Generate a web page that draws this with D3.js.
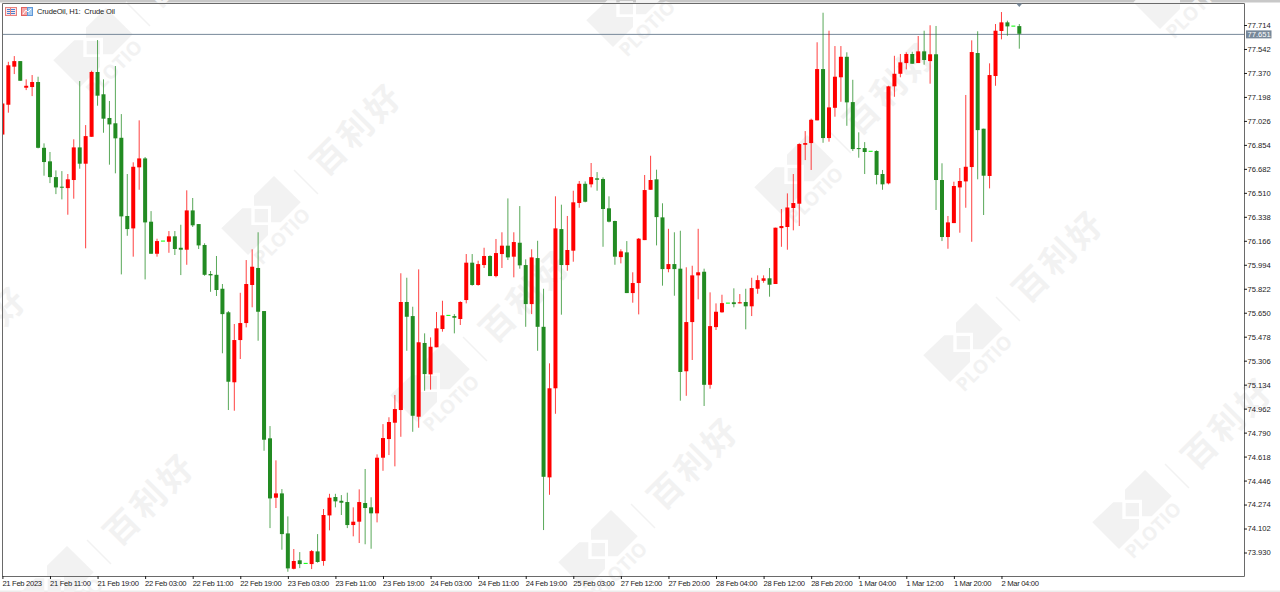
<!DOCTYPE html>
<html>
<head>
<meta charset="utf-8">
<style>
html,body{margin:0;padding:0;background:#fff;overflow:hidden}
svg{display:block}
text{font-family:"Liberation Sans",Arial,sans-serif}
</style>
<script src="https://cdn.jsdelivr.net/npm/d3@7/dist/d3.min.js"></script>
</head>
<body>
<svg id="c" width="1280" height="592"></svg>
<script>
const title = "CrudeOil, H1:  Crude Oil";
const currentPrice = 77.651;
const priceTicks = [77.714,77.542,77.370,77.198,77.026,76.854,76.682,76.510,76.338,76.166,75.994,75.822,75.650,75.478,75.306,75.134,74.962,74.790,74.618,74.446,74.274,74.102,73.930];
const timeLabels = ["21 Feb 2023","21 Feb 11:00","21 Feb 19:00","22 Feb 03:00","22 Feb 11:00","22 Feb 19:00","23 Feb 03:00","23 Feb 11:00","23 Feb 19:00","24 Feb 03:00","24 Feb 11:00","24 Feb 19:00","25 Feb 03:00","27 Feb 12:00","27 Feb 20:00","28 Feb 04:00","28 Feb 12:00","28 Feb 20:00","1 Mar 04:00","1 Mar 12:00","1 Mar 20:00","2 Mar 04:00"];

const opens = [
76.928,77.142,77.415,77.455,77.264,77.269,77.305,76.833,76.736,76.623,
76.554,76.544,76.602,76.836,76.719,76.912,77.377,77.217,77.047,77.009,
76.905,76.344,76.255,76.693,76.757,76.303,76.073,76.164,76.159,76.198,
76.116,76.102,76.384,76.286,76.136,75.928,75.922,75.822,75.653,75.151,
75.454,75.576,75.849,75.971,75.662,74.749,74.323,74.354,74.067,73.813,
73.874,73.852,73.847,73.938,73.869,74.196,74.328,74.301,74.292,74.127,
74.151,74.285,74.254,74.211,74.610,74.744,74.861,74.952,75.727,75.626,
74.904,75.433,75.208,75.402,75.533,75.631,75.626,75.605,75.741,76.009,
75.849,75.992,76.057,75.913,76.071,76.131,76.052,76.152,75.992,75.712,
76.042,75.549,74.469,75.108,76.250,75.992,76.095,76.437,76.575,76.571,
76.614,76.609,76.399,76.308,76.049,76.083,75.791,75.863,76.171,76.532,
76.607,76.334,75.963,75.999,75.966,75.230,75.583,75.918,75.944,75.133,
75.547,75.653,75.719,75.725,75.717,75.727,75.696,75.822,75.879,75.897,
75.856,76.257,76.265,76.401,76.432,76.855,76.867,77.030,77.398,76.903,
77.120,77.339,77.486,77.161,76.831,76.831,76.808,76.810,76.645,76.578,
77.274,77.364,77.441,77.506,77.441,77.525,77.455,77.504,76.602,76.193,
76.293,76.549,76.592,76.695,77.513,76.970,76.631,77.348,77.671,77.733,
77.706,77.706];
const closes = [
77.151,77.425,77.455,77.314,77.278,77.305,76.833,76.731,76.623,76.549,
76.547,76.607,76.836,76.719,76.917,77.377,77.207,77.042,77.001,76.901,
76.341,76.250,76.697,76.757,76.298,76.073,76.164,76.164,76.198,76.107,
76.102,76.384,76.277,76.133,75.922,75.918,75.813,75.640,75.155,75.454,
75.576,75.856,75.980,75.657,74.739,74.318,74.354,74.062,73.816,73.869,
73.847,73.852,73.940,73.862,74.199,74.323,74.297,74.287,74.127,74.151,
74.292,74.249,74.211,74.610,74.751,74.866,74.959,75.727,75.621,74.911,
75.438,75.210,75.406,75.538,75.631,75.631,75.614,75.727,76.009,75.849,
75.999,76.057,75.913,76.078,76.131,76.047,76.157,75.990,75.712,76.047,
75.549,74.473,75.108,76.255,75.992,76.100,76.442,76.575,76.446,76.623,
76.604,76.394,76.303,76.052,76.090,75.791,75.863,76.181,76.530,76.602,
76.336,75.963,75.999,75.963,75.225,75.583,75.918,75.940,75.133,75.554,
75.657,75.719,75.719,75.712,75.725,75.696,75.827,75.884,75.897,75.851,
76.260,76.272,76.405,76.437,76.860,76.867,77.034,77.398,76.903,77.123,
77.343,77.486,77.159,76.824,76.824,76.803,76.808,76.638,76.571,77.274,
77.364,77.446,77.506,77.436,77.525,77.463,77.504,76.602,76.193,76.298,
76.559,76.595,76.697,77.520,76.960,76.633,77.355,77.673,77.733,77.704,
77.706,77.651];
const highs = [
77.154,77.450,77.491,77.455,77.324,77.355,77.343,76.865,76.803,76.671,
76.666,76.645,76.894,77.312,76.996,77.386,77.606,77.324,77.169,77.420,
77.075,76.645,76.729,77.030,76.767,76.379,76.181,76.164,76.236,76.236,
76.281,76.528,76.473,76.286,76.148,75.949,76.057,75.856,75.662,75.569,
75.793,76.028,76.105,76.227,75.662,74.837,74.591,74.385,74.189,73.955,
73.933,73.852,73.948,74.062,74.242,74.351,74.351,74.342,74.359,74.254,
74.383,74.529,74.326,74.634,74.851,74.900,75.060,75.933,75.901,75.693,
75.961,75.502,75.473,75.655,75.736,75.631,75.640,75.732,76.071,76.071,
76.023,76.116,76.062,76.179,76.227,76.470,76.227,76.415,76.033,76.105,
76.166,75.822,75.287,76.485,76.425,76.344,76.525,76.595,76.592,76.724,
76.659,76.621,76.485,76.310,76.105,76.164,75.940,76.186,76.638,76.776,
76.676,76.435,76.252,76.227,76.238,75.976,75.987,76.252,75.966,75.796,
75.717,75.779,75.719,75.825,75.784,75.822,75.901,75.918,75.918,75.971,
76.260,76.394,76.506,76.645,76.865,76.953,77.042,77.590,77.802,77.673,
77.563,77.563,77.518,77.321,76.944,76.874,76.808,76.815,76.674,77.278,
77.493,77.506,77.518,77.522,77.635,77.673,77.712,77.707,76.722,76.344,
76.590,76.688,77.212,77.604,77.669,76.970,77.439,77.721,77.807,77.745,
77.706,77.721];
const lows = [
76.928,77.085,77.362,77.314,77.247,77.204,76.829,76.633,76.580,76.501,
76.463,76.353,76.468,76.683,76.112,76.912,77.135,76.941,76.712,76.650,
75.925,76.202,76.052,76.532,75.889,76.073,76.052,76.164,76.080,76.064,
75.920,75.994,76.265,76.107,75.915,75.800,75.770,75.359,74.952,74.947,
75.318,75.545,75.689,75.449,74.660,74.105,74.249,73.950,73.792,73.809,
73.818,73.852,73.811,73.857,73.835,74.089,74.254,74.199,74.105,74.046,
73.998,73.989,73.957,74.146,74.516,74.629,74.548,74.760,75.377,74.796,
74.825,75.090,75.098,75.402,75.514,75.631,75.502,75.562,75.717,75.844,
75.844,75.971,75.913,75.904,75.971,76.028,75.904,75.966,75.549,75.640,
75.377,74.091,74.344,74.925,75.636,75.951,76.016,76.403,76.442,76.549,
76.525,76.123,76.298,75.994,76.004,75.791,75.722,75.638,76.171,76.532,
76.133,75.844,75.940,75.772,75.019,75.054,75.311,75.746,74.981,75.105,
75.526,75.650,75.719,75.689,75.717,75.531,75.626,75.786,75.865,75.765,
75.856,76.123,76.102,76.241,76.272,76.745,76.674,77.030,76.869,76.877,
77.056,77.163,76.991,76.810,76.762,76.645,76.808,76.571,76.532,76.571,
77.199,77.339,77.396,77.436,77.441,77.429,77.293,76.387,76.164,76.109,
76.293,76.224,76.403,76.159,76.607,76.351,76.542,77.278,77.611,77.637,
77.706,77.544];

const W = 1280, H = 592;
const frame = {left: 2.5, top: 3.5, right: 1244.5, bottom: 576.5};
const UP = "#ff0000", DOWN = "#228b22", DOJI = "#00ff00", GRID = "#778899", INK = "#1a1a1a", FRAME = "#6a6a6a", WM = "#f2f2f2";

const x = d3.scaleLinear().domain([0, opens.length - 1]).range([2.4, 1019.3]);
const y = d3.scaleLinear().domain([77.714, 73.930]).range([25, 552.5]);

const svg = d3.select("#c");

// window chrome
svg.append("rect").attr("x",0).attr("y",0).attr("width",W).attr("height",2.5).attr("fill","#c8c8c8");
svg.append("rect").attr("x",0).attr("y",590.5).attr("width",W).attr("height",1.5).attr("fill","#ececec");

// watermark lattice
const wmTops = [[106,8],[274,176],[443,343],[611,510],[639,-32],[807,135],[976,303],[1145,470],[67,546],[-101,379],[1186,-50]];
const wm = svg.append("g").selectAll("g").data(wmTops).join("g").attr("transform", d => `translate(${d[0]},${d[1]})`);
wm.append("path").attr("fill",WM).attr("d","M0,0L26.7,26.3L6.7,46.3L-3,46.3L-3,29.7L-20,29.7L-20,19.7Z");
wm.append("path").attr("fill",WM).attr("d","M-31.7,32.3L-52.7,52.3L-26,79L-6,59L-6,49L-22.7,49L-22.7,32.3Z");
wm.append("rect").attr("fill",WM).attr("x",-19.3).attr("y",33).attr("width",13.3).attr("height",13.3);
wm.append("line").attr("stroke",WM).attr("stroke-width",1.4).attr("x1",20).attr("y1",-6).attr("x2",44).attr("y2",18);
wm.append("text").attr("transform","translate(8,60) rotate(-45)").attr("text-anchor","middle").attr("dy","0.36em")
  .attr("font-size",19).attr("font-weight",700).attr("fill",WM).style("font-family","'Open Sans',sans-serif").text("PLOTIO");
wm.append("text").attr("transform","translate(83,-47) rotate(-45)").attr("text-anchor","middle").attr("dy","0.36em")
  .attr("font-size",34).attr("fill",WM).style("font-family","'Noto Sans CJK SC',sans-serif").style("font-weight",700).style("letter-spacing","4px").text("百利好");

// current price line
const curY = y(currentPrice) + 0.6;
svg.append("line").attr("x1",frame.left).attr("x2",frame.right).attr("y1",curY).attr("y2",curY).attr("stroke",GRID).attr("stroke-width",1);

// candles
const idx = d3.range(opens.length);
const plot = svg.append("g").attr("clip-path","url(#plotClip)");
svg.append("clipPath").attr("id","plotClip").append("rect").attr("x",frame.left).attr("y",frame.top).attr("width",frame.right-frame.left).attr("height",frame.bottom-frame.top);
const col = i => closes[i] === opens[i] ? DOJI : closes[i] > opens[i] ? UP : DOWN;
plot.append("g").selectAll("line").data(idx.filter(i => highs[i] !== lows[i])).join("line")
  .attr("x1",i=>x(i)).attr("x2",i=>x(i)).attr("y1",i=>y(highs[i])).attr("y2",i=>y(lows[i]))
  .attr("stroke",col).attr("stroke-width",1).attr("stroke-opacity",0.75);
plot.append("g").selectAll("rect").data(idx).join("rect")
  .attr("x",i=>x(i)-2).attr("width",4)
  .attr("y",i=>closes[i]===opens[i] ? y(closes[i])-0.5 : y(Math.max(opens[i],closes[i])))
  .attr("height",i=>closes[i]===opens[i] ? 1 : Math.max(1, y(Math.min(opens[i],closes[i]))-y(Math.max(opens[i],closes[i]))))
  .attr("fill",col);

// frame
svg.append("path").attr("fill","none").attr("stroke",FRAME).attr("stroke-width",1)
  .attr("d",`M${frame.left},${frame.top}H${frame.right}V${frame.bottom}H${frame.left}Z`);

// axes
const yAxis = d3.axisRight(y).tickValues(priceTicks).tickFormat(d3.format(".3f")).tickSize(3).tickPadding(0.5);
const yg = svg.append("g").attr("transform",`translate(${frame.right-0.5},0)`).call(yAxis);
yg.select(".domain").remove();
yg.selectAll("line").attr("stroke",INK);
yg.selectAll("text").attr("font-size",7.6).attr("fill",INK);

const xAxis = d3.axisBottom(x).tickValues(timeLabels.map((_,k)=>k*8)).tickFormat((d,k)=>timeLabels[k]).tickSize(3);
const xg = svg.append("g").attr("transform",`translate(0,${frame.bottom-0.5})`).call(xAxis);
xg.select(".domain").remove();
xg.selectAll("line").attr("stroke",INK);
xg.selectAll("text").attr("text-anchor","start").attr("y",9.5).attr("dy",0).attr("font-size",7.6).attr("fill",INK).attr("dx",-0.5).style("letter-spacing","-0.3px");

// current price tag
svg.append("rect").attr("x",1246).attr("y",curY-4).attr("width",25.5).attr("height",8).attr("fill",GRID);
svg.append("text").attr("x",1247.5).attr("y",curY).attr("dy","0.34em").attr("font-size",7.6).attr("fill","#fff").text(d3.format(".3f")(currentPrice));

// shift marker
svg.append("path").attr("fill",GRID).attr("d",`M${x(opens.length-1)-3},3.5H${x(opens.length-1)+3}L${x(opens.length-1)},7Z`);

// title and toolbar icons
svg.append("text").attr("x",37).attr("y",14).attr("font-size",7.5).attr("fill",INK).style("letter-spacing","-0.15px").style("white-space","pre").text(title);
const ic1 = svg.append("g");
ic1.append("rect").attr("x",5.5).attr("y",7.5).attr("width",11).attr("height",8).attr("fill","#fbe3e3").attr("stroke","#e88080");
d3.range(3).forEach(k => ic1.append("line").attr("x1",7).attr("x2",15).attr("y1",9.5+k*2).attr("y2",9.5+k*2).attr("stroke","#4a7fd0"));
ic1.append("line").attr("x1",10.5).attr("x2",10.5).attr("y1",8).attr("y2",15).attr("stroke","#e88080");
const ic2 = svg.append("g");
ic2.append("rect").attr("x",21.5).attr("y",7.5).attr("width",6).attr("height",8).attr("fill","#f5a9a9").attr("stroke","#e06060");
ic2.append("rect").attr("x",27.5).attr("y",7.5).attr("width",5).attr("height",8).attr("fill","#a9cdf0").attr("stroke","#5f98d8");
ic2.append("path").attr("fill","none").attr("stroke","#fff").attr("d","M23,14L26,10L28,12L31,9");
</script>
</body>
</html>
